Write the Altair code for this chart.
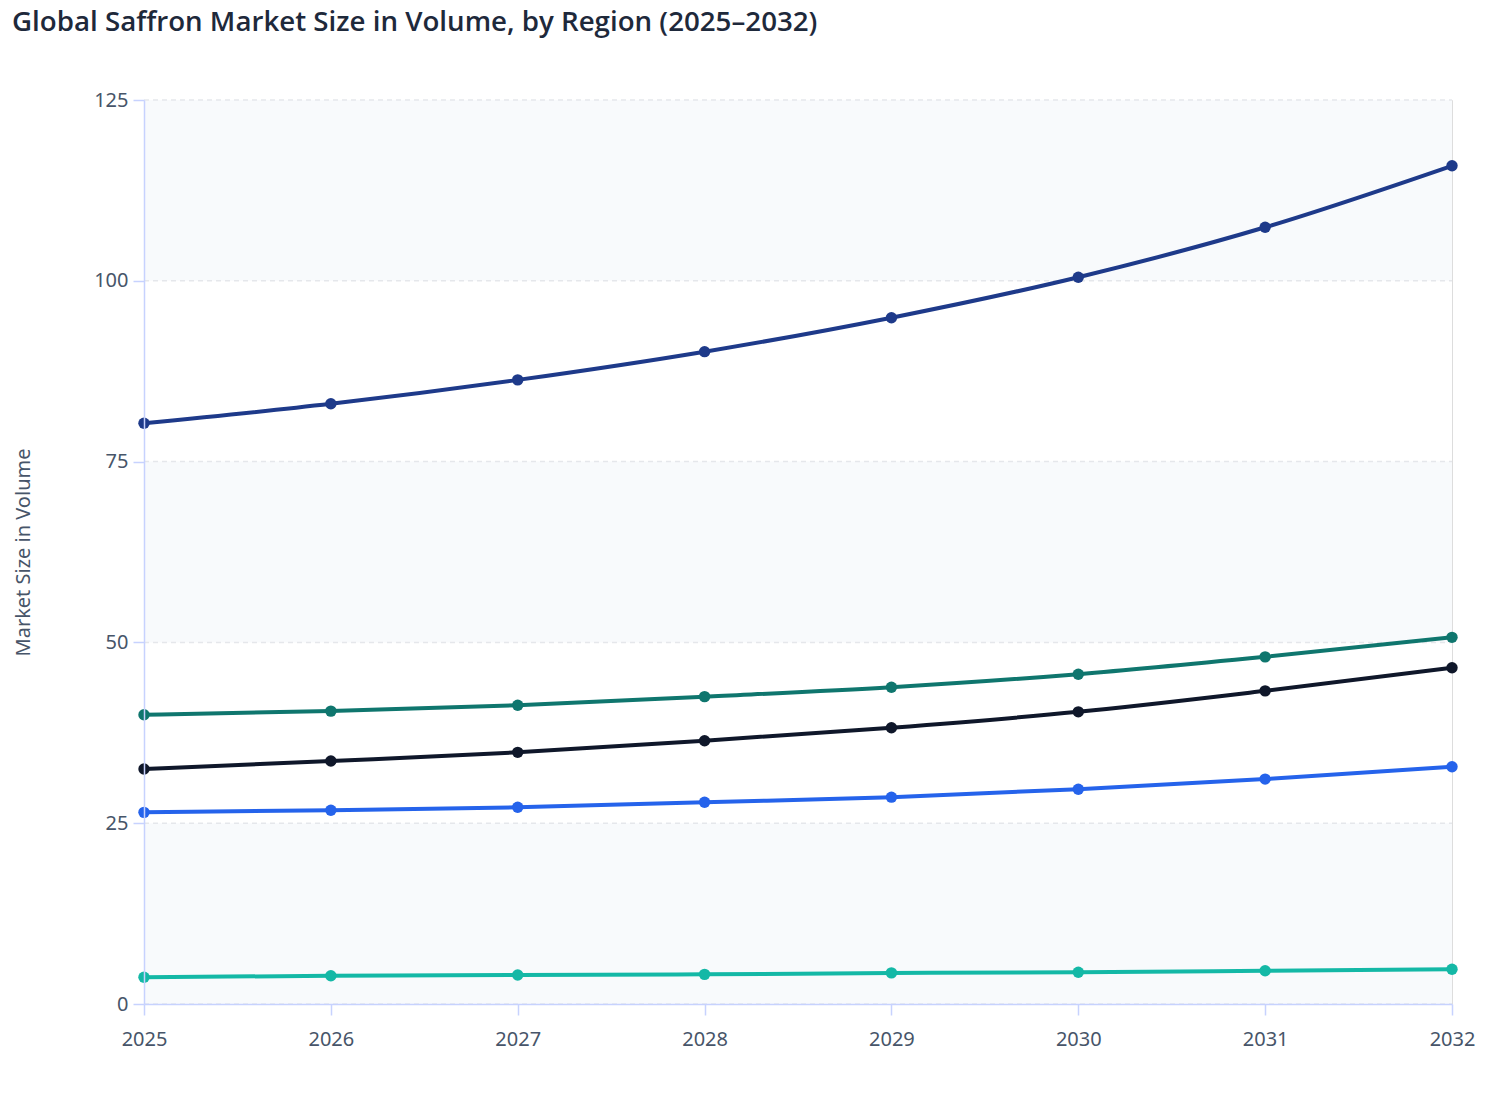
import altair as alt
import pandas as pd

years = [2025, 2026, 2027, 2028, 2029, 2030, 2031, 2032]
regions = ["Middle East & Africa", "Europe", "Asia Pacific", "North America", "Latin America"]
colors = ["#1e3a8a", "#0f766e", "#0f172a", "#2563eb", "#14b8a6"]
mea = [80.3, 83.0, 86.3, 90.2, 94.9, 100.5, 107.4, 115.9]
europe = [40.0, 40.5, 41.3, 42.5, 43.8, 45.6, 48.0, 50.7]
apac = [32.5, 33.6, 34.8, 36.4, 38.2, 40.4, 43.3, 46.5]
na = [26.5, 26.8, 27.2, 27.9, 28.6, 29.7, 31.1, 32.8]
latam = [3.7, 3.9, 4.0, 4.1, 4.3, 4.4, 4.6, 4.8]
y_ticks = [0, 25, 50, 75, 100, 125]
band_lo = [0, 50, 100]
band_hi = [25, 75, 125]

series = [mea, europe, apac, na, latam]
rows = []
for name, vals in zip(regions, series):
    for yr, v in zip(years, vals):
        rows.append({"Year": yr, "Region": name, "Value": v})
df = pd.DataFrame(rows)
bands = pd.DataFrame({"lo": band_lo, "hi": band_hi, "x0": years[0], "x1": years[-1]})
grid = pd.DataFrame({"v": y_ticks, "x0": years[0], "x1": years[-1]})

FONT = "Noto Sans"
W, H = 1308, 904

xs = alt.Scale(domain=[years[0], years[-1]], nice=False, zero=False)
ys = alt.Scale(domain=[0, 125], nice=False)

band_layer = alt.Chart(bands).mark_rect(color="#f8fafc").encode(
    x=alt.X("x0:Q", scale=xs),
    x2="x1:Q",
    y=alt.Y("lo:Q", scale=ys),
    y2="hi:Q",
)
grid_layer = alt.Chart(grid).mark_rule(color="#e5e7eb", strokeDash=[5, 4], strokeWidth=1.5).encode(
    x=alt.X("x0:Q", scale=xs),
    x2="x1:Q",
    y=alt.Y("v:Q", scale=ys),
)

color = alt.Color("Region:N", scale=alt.Scale(domain=regions, range=colors), legend=None)

x_axis = alt.Axis(values=years, format="d", title=None, grid=False, labelFlush=False,
                  labelFontSize=20, labelColor="#475569", labelFont=FONT,
                  domainColor="#c7d2fe", domainWidth=1.5, tickColor="#c7d2fe",
                  tickSize=11, tickWidth=1.5, labelPadding=14, zindex=1)
y_axis = alt.Axis(values=y_ticks, title="Market Size in Volume", grid=False,
                  labelFontSize=20, labelColor="#475569", labelFont=FONT,
                  domainColor="#c7d2fe", domainWidth=1.5, tickColor="#c7d2fe",
                  tickSize=11, tickWidth=1.5, labelPadding=5, labelFlush=False,
                  titleFont=FONT, titleFontSize=20, titleFontWeight="normal",
                  titleColor="#475569", titleX=-121, titleY=H / 2, titleAngle=-90,
                  titleBaseline="middle", titleAlign="center", zindex=1)

lines = alt.Chart(df).mark_line(strokeWidth=4, interpolate="monotone", clip=False).encode(
    x=alt.X("Year:Q", scale=xs, axis=x_axis),
    y=alt.Y("Value:Q", scale=ys, axis=y_axis),
    color=color,
    detail="Region:N",
)
points = alt.Chart(df).mark_point(filled=True, size=130, opacity=1, clip=False).encode(
    x=alt.X("Year:Q", scale=xs),
    y=alt.Y("Value:Q", scale=ys),
    color=color,
)

chart = alt.layer(band_layer, grid_layer, lines, points).properties(
    width=W, height=H,
    title=alt.TitleParams("Global Saffron Market Size in Volume, by Region (2025–2032)",
                          anchor="start", frame="group", dx=-132, offset=53,
                          font="Open Sans", fontSize=27.7, fontWeight=600, color="#1e293b"),
    padding={"left": 136, "top": 92, "right": 48, "bottom": 60},
    autosize=alt.AutoSizeParams(type="none"),
).configure_view(stroke=None).configure(background="white")

chart.save("out.html", embed_options={"renderer": "svg", "actions": False})
